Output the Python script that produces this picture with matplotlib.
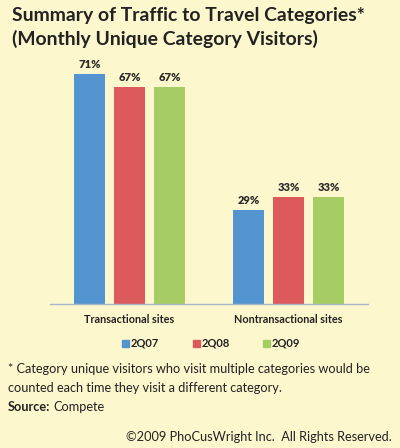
import numpy as np
import matplotlib
matplotlib.use("Agg")
import matplotlib.pyplot as plt
from matplotlib.patches import Rectangle

# data
categories = ["Transactional sites", "Nontransactional sites"]
periods = ["2Q07", "2Q08", "2Q09"]
share_2q07 = [71, 29]
share_2q08 = [67, 33]
share_2q09 = [67, 33]

colors = ["#5393D0", "#DC5A5C", "#A6CC64"]
bg = "#FDF7CD"
text_col = "#222222"

plt.rcParams['font.family'] = ['Lato', 'DejaVu Sans']

fig = plt.figure(figsize=(4.0, 4.48), dpi=100, facecolor=bg)
W, H = 400, 448
renderer = fig.canvas.get_renderer()


def fit(t, target_px):
    # shrink/grow the font so the text spans about target_px pixels
    w = t.get_window_extent(renderer).width
    t.set_fontsize(t.get_fontsize() * target_px / w)
    return t


# axes placed in pixel terms: left 50, right 368, baseline y=304, top y=45
ax = fig.add_axes([50 / W, 1 - 304 / H, 318 / W, 259 / H])
ax.set_facecolor(bg)

x = np.arange(len(categories))
width = 0.201
offset = 0.2516
series = [share_2q07, share_2q08, share_2q09]
for i, (vals, c) in enumerate(zip(series, colors)):
    pos = x + (i - 1) * offset
    bars = ax.bar(pos, vals, width, color=c, edgecolor="none", zorder=2)
    for b, v in zip(bars, vals):
        ax.text(b.get_x() + b.get_width() / 2, v + 2.9, f"{v}%",
                ha="center", va="center", fontsize=8, fontweight="heavy",
                color="#2a2a2a")

ax.set_xlim(-0.5, 1.5)
ax.set_ylim(0, 80)
for s in ["top", "right", "left"]:
    ax.spines[s].set_visible(False)
ax.spines["bottom"].set_color("#A8B8CC")
ax.spines["bottom"].set_linewidth(1.0)
ax.set_yticks([])
ax.set_xticks(x)
ax.set_xticklabels(categories, fontsize=7.8, fontweight="bold", color=text_col)
ax.tick_params(axis="x", length=0, pad=7)

# title
t1 = fig.text(12 / W, 1 - 15 / H, "Summary of Traffic to Travel Categories*",
              ha="left", va="center", fontsize=13, fontweight="bold", color=text_col)
t2 = fig.text(12 / W, 1 - 39 / H, "(Monthly Unique Category Visitors)",
              ha="left", va="center", fontsize=13, fontweight="bold", color=text_col)
fit(t1, 353)
t2.set_fontsize(t1.get_fontsize())

# legend
leg_x = [122, 193, 263]
for lx, c, p in zip(leg_x, colors, periods):
    fig.patches.append(Rectangle((lx / W, 1 - 347 / H), 7 / W, 7 / H,
                                 transform=fig.transFigure, color=c))
    fig.text((lx + 9) / W, 1 - 343.5 / H, p, ha="left", va="center",
             fontsize=8, fontweight="bold", color=text_col)

# footnotes
f1 = fig.text(8 / W, 1 - 369 / H,
              "* Category unique visitors who visit multiple categories would be",
              ha="left", va="center", fontsize=10, color=text_col)
fit(f1, 363)
fs = f1.get_fontsize()
fig.text(8 / W, 1 - 388 / H,
         "counted each time they visit a different category.",
         ha="left", va="center", fontsize=fs, color=text_col)
src = fig.text(8 / W, 1 - 407 / H, "Source:", ha="left", va="center",
               fontsize=fs, fontweight="bold", color=text_col)
sw = src.get_window_extent(renderer).width
fig.text((8 + sw + 3) / W, 1 - 407 / H, "Compete", ha="left", va="center",
         fontsize=fs, color=text_col)
fig.text(392 / W, 1 - 437 / H, "\u00a92009 PhoCusWright Inc.  All Rights Reserved.",
         ha="right", va="center", fontsize=fs, color=text_col)

fig.savefig("out.png", dpi=100, facecolor=bg)
